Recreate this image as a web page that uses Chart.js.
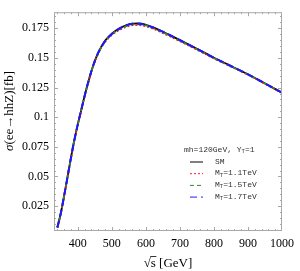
<!DOCTYPE html>
<html>
<head>
<meta charset="utf-8">
<script src="https://cdn.jsdelivr.net/npm/chart.js@4/dist/chart.umd.min.js"></script>
<style>
  html, body { margin: 0; padding: 0; background: #fff; }
  #c { display: block; }
</style>
</head>
<body>
<canvas id="c" width="300" height="271"></canvas>
<script>
// sqrt(s) in GeV
const sqrtS = [340, 350, 360, 370, 380, 390, 400, 410, 420, 430, 440, 450, 460, 480, 500,
               520, 540, 560, 580, 600, 625, 650, 675, 700, 750, 800, 850, 900, 950, 1000];

// cross sections in fb
const smValues = [0.007, 0.019, 0.034, 0.050, 0.066, 0.081, 0.0940, 0.1060, 0.1180, 0.1290, 0.1390, 0.1475, 0.1545, 0.1645, 0.1705,
                  0.1746, 0.1774, 0.1790, 0.1791, 0.1780, 0.1754, 0.1721, 0.1686, 0.1650, 0.1577, 0.1502, 0.1432, 0.1362, 0.1285, 0.1207];
const mt11Values = [0.007, 0.019, 0.034, 0.050, 0.066, 0.081, 0.0938, 0.1057, 0.1176, 0.1285, 0.1384, 0.1468, 0.1537, 0.1635, 0.1693,
                    0.1733, 0.1760, 0.1776, 0.1777, 0.1767, 0.1742, 0.1710, 0.1676, 0.1641, 0.1570, 0.1496, 0.1427, 0.1358, 0.1282, 0.1205];
const mt15Values = [0.007, 0.019, 0.034, 0.050, 0.066, 0.081, 0.0939, 0.1059, 0.1178, 0.1288, 0.1387, 0.1472, 0.1541, 0.1640, 0.1699,
                    0.1740, 0.1767, 0.1783, 0.1784, 0.1774, 0.1748, 0.1716, 0.1681, 0.1646, 0.1574, 0.1499, 0.1430, 0.1360, 0.1284, 0.1206];
const mt17Values = [0.007, 0.019, 0.034, 0.050, 0.066, 0.081, 0.0940, 0.1060, 0.1180, 0.1290, 0.1390, 0.1475, 0.1545, 0.1643, 0.1703,
                    0.1744, 0.1772, 0.1788, 0.1789, 0.1778, 0.1753, 0.1721, 0.1686, 0.1650, 0.1577, 0.1502, 0.1432, 0.1362, 0.1285, 0.1207];

const seriesLabels = ['SM', 'M_T=1.1TeV', 'M_T=1.5TeV', 'M_T=1.7TeV'];
const legendTitle = 'mh=120GeV, Y_T=1';

const xTicks = [400, 500, 600, 700, 800, 900, 1000];
const xTickLabels = ['400', '500', '600', '700', '800', '900', '1000'];
const yTicks = [0.025, 0.05, 0.075, 0.1, 0.125, 0.15, 0.175];
const yTickLabels = ['0.025', '0.05', '0.075', '0.1', '0.125', '0.15', '0.175'];

const SERIF = '"Liberation Serif", "Times New Roman", serif';
const MONO = '"Liberation Mono", "DejaVu Sans Mono", monospace';

function toPoints(values) {
    return sqrtS.map((x, i) => ({ x: x, y: values[i] }));
}

// draw text where "_X" means a subscript character
function drawSub(ctx, text, x, y, size) {
    let cx = x;
    for (let i = 0; i < text.length; i++) {
        if (text[i] === '_' && i + 1 < text.length) {
            ctx.font = (size * 0.7) + 'px ' + MONO;
            ctx.fillText(text[i + 1], cx, y + size * 0.25);
            cx += ctx.measureText(text[i + 1]).width;
            i++;
        } else {
            ctx.font = size + 'px ' + MONO;
            ctx.fillText(text[i], cx, y);
            cx += ctx.measureText(text[i]).width;
        }
    }
}

// frame, inward ticks, legend and axis titles
const decorPlugin = {
    id: 'decor',
    afterDraw(chart) {
        const ctx = chart.ctx;
        const a = chart.chartArea;
        const xs = chart.scales.x, ys = chart.scales.y;
        ctx.save();

        // frame
        ctx.strokeStyle = '#a8a8a8';
        ctx.lineWidth = 1;
        ctx.strokeRect(a.left + 0.5, a.top + 0.5, a.right - a.left - 1, a.bottom - a.top - 1);

        // ticks on all four sides
        ctx.beginPath();
        for (let v = 340; v < 1000; v += 20) {
            const len = xTicks.includes(v) ? 4 : 2;
            const px = Math.round(xs.getPixelForValue(v)) + 0.5;
            ctx.moveTo(px, a.bottom); ctx.lineTo(px, a.bottom - len);
            ctx.moveTo(px, a.top); ctx.lineTo(px, a.top + len);
        }
        for (let k = 1; k <= 37; k++) {
            const v = k * 0.005;
            const major = k % 5 === 0;
            const len = major ? 4 : 2;
            const py = Math.round(ys.getPixelForValue(v)) + 0.5;
            if (py < a.top || py > a.bottom) continue;
            ctx.moveTo(a.left, py); ctx.lineTo(a.left + len, py);
            ctx.moveTo(a.right, py); ctx.lineTo(a.right - len, py);
        }
        ctx.stroke();

        // legend inside the plot
        ctx.fillStyle = '#333';
        ctx.textBaseline = 'middle';
        ctx.textAlign = 'left';
        drawSub(ctx, legendTitle, 184, 150, 8);
        chart.data.datasets.forEach((ds, i) => {
            const y = 161.5 + i * 11.7;
            ctx.save();
            ctx.strokeStyle = ds.borderColor;
            ctx.lineWidth = 1;
            ctx.setLineDash(ds.borderDash || []);
            ctx.beginPath();
            ctx.moveTo(190, y + 0.5); ctx.lineTo(203, y + 0.5);
            ctx.stroke();
            ctx.restore();
            ctx.fillStyle = '#333';
            drawSub(ctx, ds.label, 215, y, 8);
        });

        // y axis title
        ctx.save();
        ctx.translate(10, 111);
        ctx.rotate(-Math.PI / 2);
        ctx.fillStyle = '#000';
        ctx.textBaseline = 'middle';
        ctx.font = 'italic 13px ' + SERIF;
        const sig = 'σ';
        const wSig = ctx.measureText(sig).width;
        ctx.font = '13px ' + SERIF;
        const rest = '(ee→hhZ)[fb]';
        const wRest = ctx.measureText(rest).width;
        let sx = -(wSig + wRest) / 2;
        ctx.font = 'italic 13px ' + SERIF;
        ctx.fillText(sig, sx, 0);
        ctx.font = '13px ' + SERIF;
        ctx.fillText(rest, sx + wSig, 0);
        ctx.restore();

        // x axis title: sqrt(s) [GeV]
        ctx.fillStyle = '#000';
        ctx.textBaseline = 'alphabetic';
        ctx.font = '13px ' + SERIF;
        const root = '√', s = 's', unit = ' [GeV]';
        const wr = ctx.measureText(root).width, ws = ctx.measureText(s).width, wu = ctx.measureText(unit).width;
        const x0 = (a.left + a.right) / 2 - (wr + ws + wu) / 2;
        const base = 267;
        ctx.fillText(root, x0, base);
        ctx.fillText(s, x0 + wr, base);
        ctx.fillText(unit, x0 + wr + ws, base);
        ctx.strokeStyle = '#000';
        ctx.lineWidth = 0.8;
        ctx.beginPath();
        ctx.moveTo(x0 + wr - 0.5, base - 10.5);
        ctx.lineTo(x0 + wr + ws + 0.5, base - 10.5);
        ctx.stroke();

        ctx.restore();
    }
};

new Chart(document.getElementById('c').getContext('2d'), {
    type: 'line',
    data: {
        datasets: [
            { label: seriesLabels[0], data: toPoints(smValues), borderColor: '#000000', borderWidth: 1.8, order: 3 },
            { label: seriesLabels[1], data: toPoints(mt11Values), borderColor: '#ff1a1a', borderWidth: 1.8, borderDash: [2, 2], order: 2 },
            { label: seriesLabels[2], data: toPoints(mt15Values), borderColor: '#2e8b2e', borderWidth: 1.8, borderDash: [4, 3], order: 1 },
            { label: seriesLabels[3], data: toPoints(mt17Values), borderColor: '#1a1aff', borderWidth: 2, borderDash: [7, 4], order: 0 }
        ]
    },
    options: {
        responsive: false,
        animation: false,
        events: [],
        layout: { padding: { top: 1, right: 14, left: 0, bottom: 0 } },
        elements: {
            point: { radius: 0 },
            line: { cubicInterpolationMode: 'monotone', fill: false }
        },
        plugins: {
            legend: { display: false },
            tooltip: { enabled: false }
        },
        scales: {
            x: {
                type: 'linear',
                min: 330,
                max: 1000,
                grid: { display: false, drawTicks: false },
                border: { display: false },
                afterBuildTicks: scale => { scale.ticks = xTicks.map(v => ({ value: v })); },
                afterFit: scale => { scale.height = 40; },
                ticks: {
                    autoSkip: false,
                    maxRotation: 0,
                    padding: 6,
                    color: '#000',
                    font: { family: SERIF, size: 12 },
                    callback: (v, i) => xTickLabels[i]
                }
            },
            y: {
                min: 0.004,
                max: 0.1886,
                grid: { display: false, drawTicks: false },
                border: { display: false },
                afterBuildTicks: scale => { scale.ticks = yTicks.map(v => ({ value: v })); },
                afterFit: scale => { scale.width = 54; },
                ticks: {
                    autoSkip: false,
                    padding: 5,
                    color: '#000',
                    font: { family: SERIF, size: 12 },
                    callback: (v, i) => yTickLabels[i]
                }
            }
        }
    },
    plugins: [decorPlugin]
});
</script>
</body>
</html>
